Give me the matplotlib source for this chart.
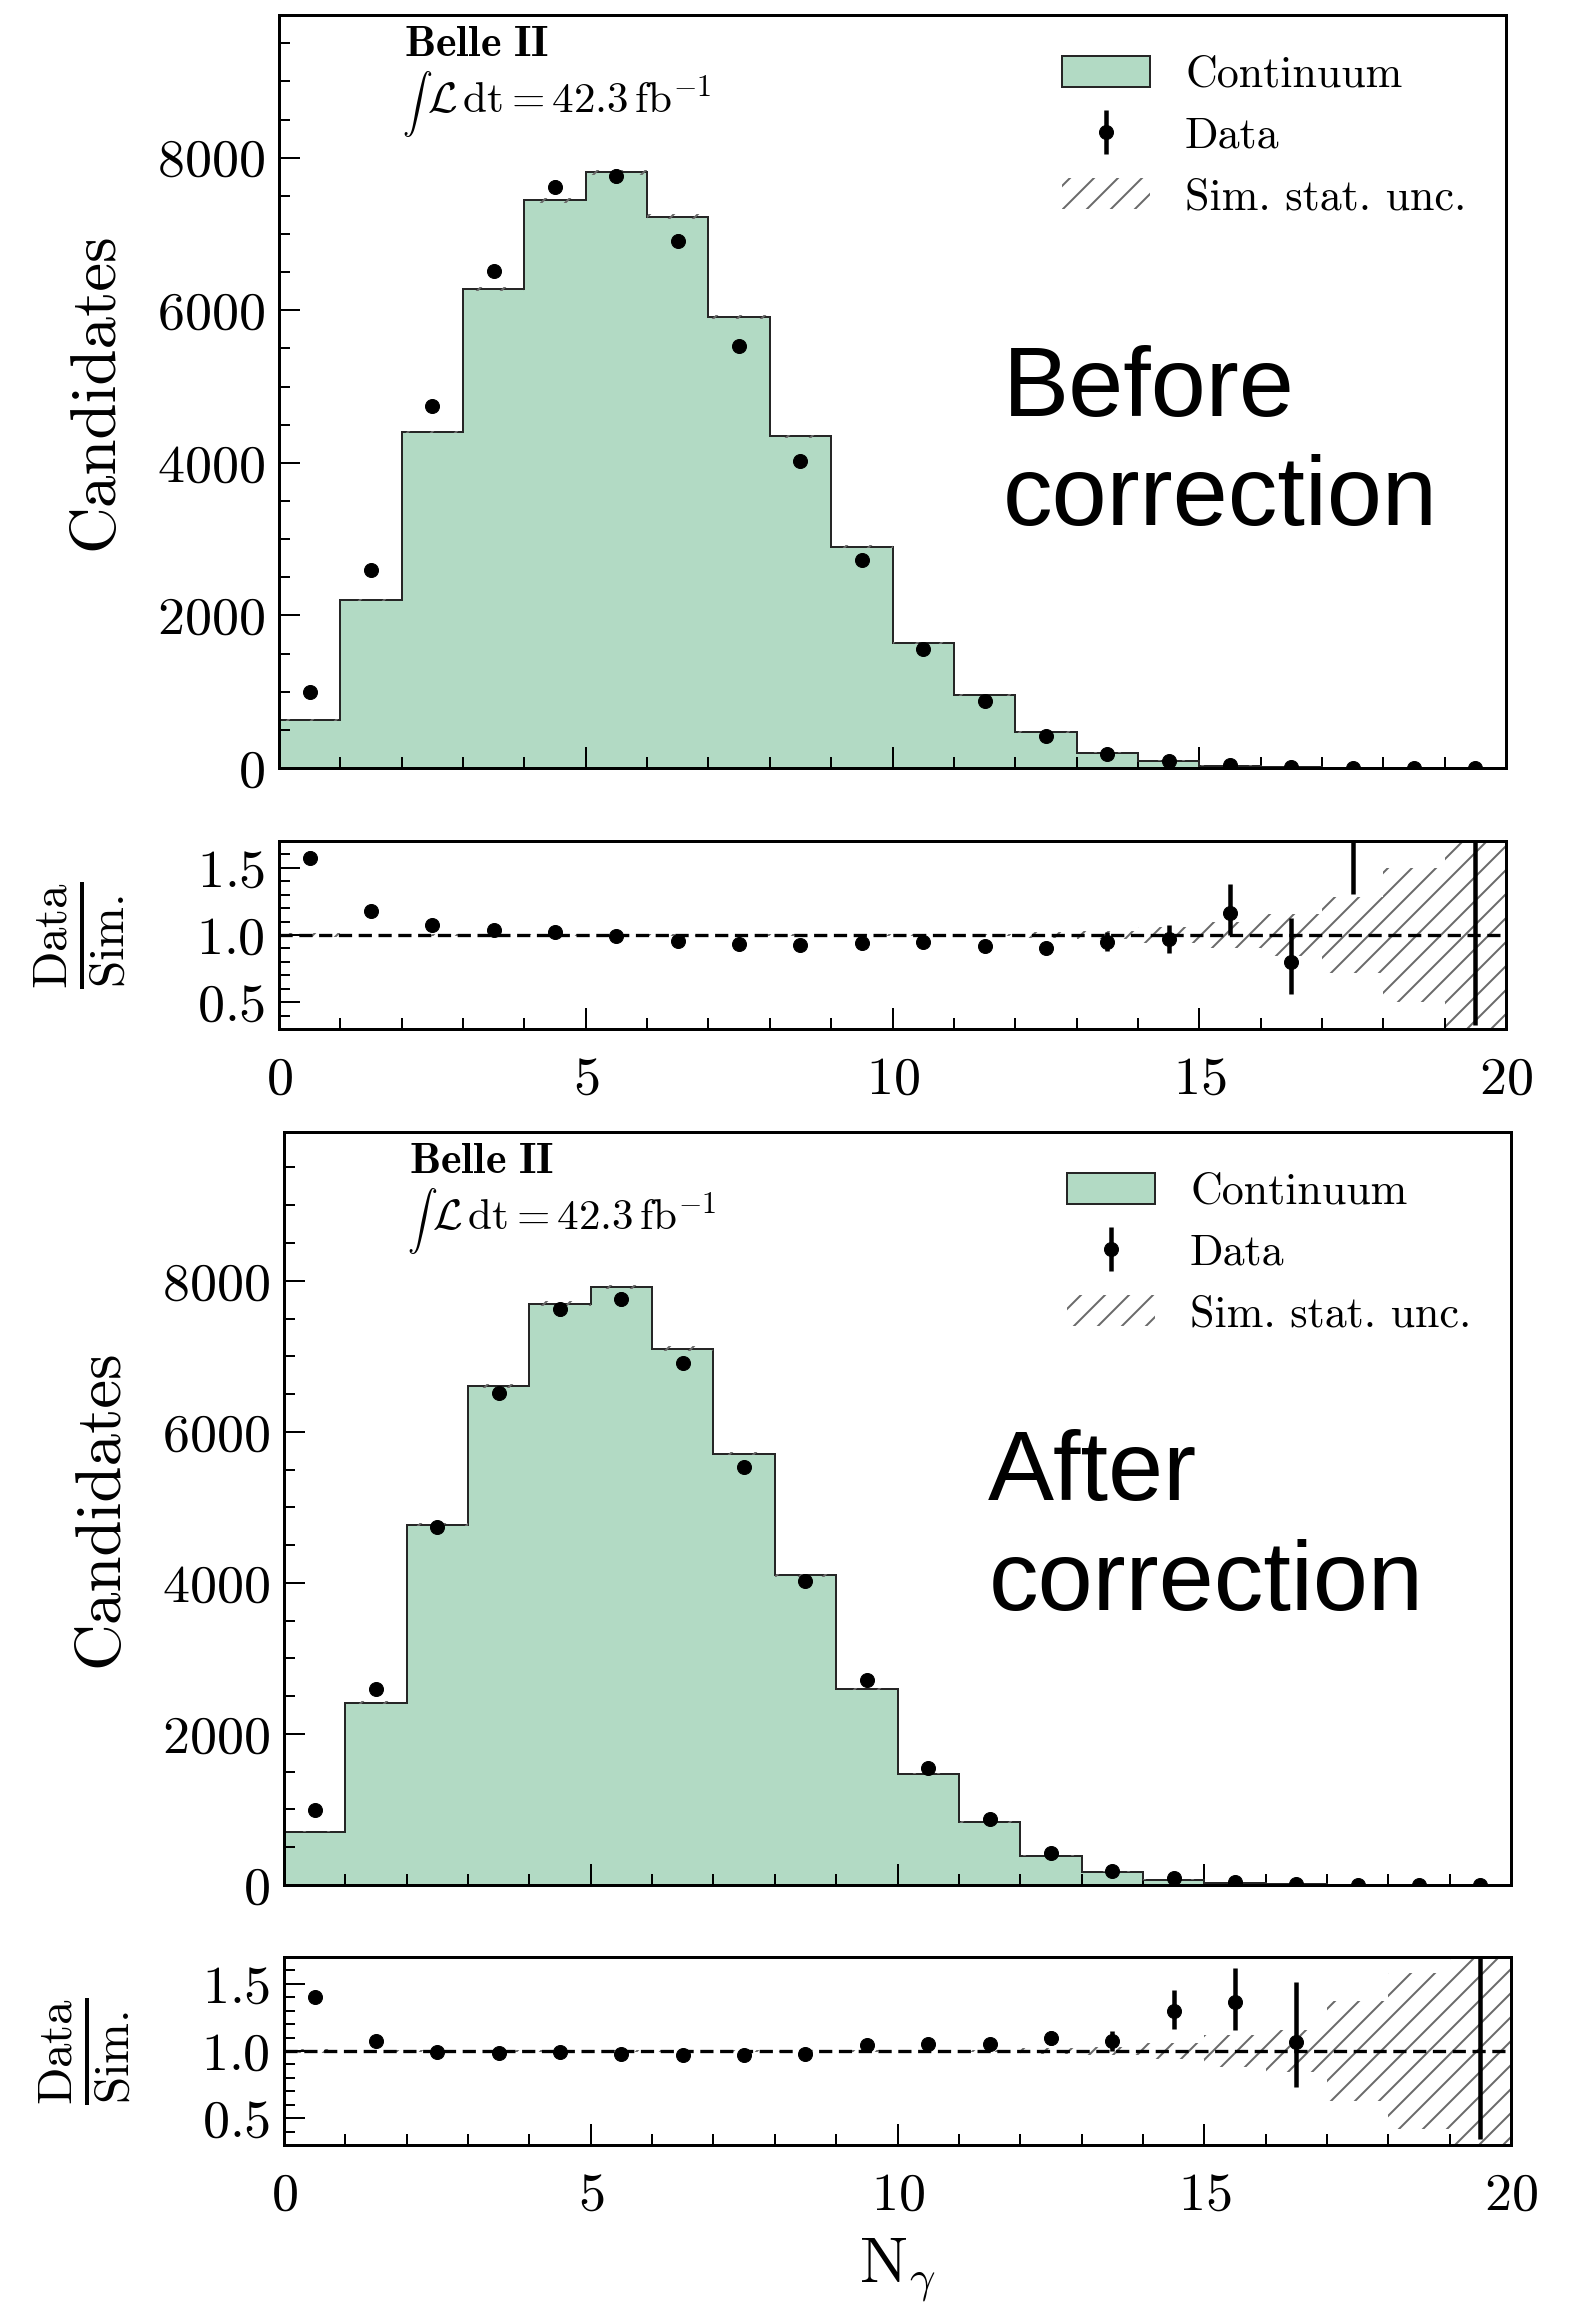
import numpy as np
import matplotlib
matplotlib.use("Agg")
import matplotlib.pyplot as plt
from matplotlib.patches import Patch
from matplotlib.ticker import MultipleLocator

plt.rcParams['font.family'] = 'cmr10'
plt.rcParams['mathtext.fontset'] = 'cm'
plt.rcParams['axes.formatter.use_mathtext'] = True
plt.rcParams['hatch.linewidth'] = 2.0

# ---------------- data ----------------
bin_edges = list(range(21))
data = [990, 2590, 4740, 6510, 7620, 7760, 6910, 5530, 4020, 2720,
        1555, 880, 425, 190, 90, 37, 10, 2, 0, 1]

sim_before = [628, 2203, 4406, 6280, 7440, 7807, 7227, 5913, 4348, 2900,
              1635, 955, 470, 200, 93, 31.7, 12.5, 0.6, 0.3, 0.5]
sim_after = [707, 2416, 4773, 6609, 7697, 7918, 7102, 5713, 4102, 2598,
             1475, 835, 387, 177, 69.5, 27.1, 9.4, 0.3, 0.2, 0.5]

# relative simulation statistical uncertainty
band_before = [0.015, 0.006, 0.004, 0.004, 0.004, 0.004, 0.004, 0.004, 0.005, 0.006,
               0.008, 0.011, 0.02, 0.03, 0.06, 0.10, 0.155, 0.28, 0.50, 1.5]
band_after = [0.015, 0.006, 0.004, 0.004, 0.004, 0.004, 0.004, 0.004, 0.005, 0.006,
              0.008, 0.011, 0.02, 0.03, 0.06, 0.12, 0.16, 0.37, 0.58, 1.5]

# ratio uncertainties (lower, upper)
rerr_lo_before = [0.05, 0.023, 0.016, 0.013, 0.012, 0.011, 0.012, 0.013, 0.015, 0.018,
                  0.024, 0.031, 0.044, 0.07, 0.10, 0.17, 0.24, 2.03, 0.0, 1.67]
rerr_hi_before = [0.05, 0.023, 0.016, 0.013, 0.012, 0.011, 0.012, 0.013, 0.015, 0.018,
                  0.024, 0.031, 0.044, 0.07, 0.11, 0.21, 0.33, 3.0, 0.0, 4.6]
rerr_lo_after = [0.045, 0.021, 0.014, 0.012, 0.011, 0.011, 0.012, 0.013, 0.015, 0.02,
                 0.026, 0.035, 0.05, 0.075, 0.13, 0.21, 0.33, 4.5, 0.0, 1.654]
rerr_hi_after = [0.045, 0.021, 0.014, 0.012, 0.011, 0.011, 0.012, 0.013, 0.015, 0.02,
                 0.026, 0.035, 0.05, 0.075, 0.16, 0.25, 0.45, 8.0, 0.0, 4.6]

green = '#b2dac4'
hatch_col = '#6a6a6a'
edge_col = '#262626'

W, H = 1578, 2307
DPI = 72
fig = plt.figure(figsize=(W / DPI, H / DPI), dpi=DPI)


def fx(px):
    return px / W


def fy(px):
    return 1 - px / H


def style(ax):
    for s in ax.spines.values():
        s.set_linewidth(3)
    ax.tick_params(which='both', direction='in', top=False, right=False,
                   labelsize=54, width=2)
    ax.tick_params(which='major', length=21)
    ax.tick_params(which='minor', length=11)
    ax.tick_params(axis='y', pad=14)
    ax.tick_params(axis='x', pad=28)
    ax.xaxis.set_major_locator(MultipleLocator(5))
    ax.xaxis.set_minor_locator(MultipleLocator(1))
    ax.set_xlim(0, 20)


def draw(left, top_main, top_ratio, sim, band, lo, hi, ymax, word, xlabel):
    width = 1227
    ax = fig.add_axes([fx(left), fy(top_main + 753), fx(width), 753 / H])
    axr = fig.add_axes([fx(left), fy(top_ratio + 188), fx(width), 188 / H])

    edges = np.array(bin_edges, dtype=float)
    centers = 0.5 * (edges[:-1] + edges[1:])
    s = np.array(sim, dtype=float)
    d = np.array(data, dtype=float)
    b = np.array(band, dtype=float)

    ax.stairs(s, edges, fill=True, facecolor=green, edgecolor='none', zorder=1)
    ax.stairs(s, edges, color=edge_col, lw=2.0, zorder=2)
    ax.stairs(s * (1 + b), edges, baseline=s * (1 - b), fill=True,
              facecolor='none', edgecolor=hatch_col, lw=0, hatch='/', zorder=3)
    eb = ax.errorbar(centers, d, yerr=np.sqrt(d), fmt='o', color='k', ms=14,
                     elinewidth=4.5, capsize=0, zorder=5)
    style(ax)
    ax.set_ylim(0, ymax)
    ax.yaxis.set_major_locator(MultipleLocator(2000))
    ax.yaxis.set_minor_locator(MultipleLocator(500))
    ax.tick_params(axis='x', labelbottom=False)
    ax.set_ylabel('Candidates', fontsize=65)
    ax.yaxis.set_label_coords(-0.125, 0.5)

    ax.text(0.102, 0.9456, r'$\mathbf{Belle\ II}$', transform=ax.transAxes,
            fontsize=44, ha='left', va='baseline')
    ax.text(0.100, 0.868, r'$\int$', transform=ax.transAxes,
            fontsize=30, ha='left', va='baseline')
    ax.text(0.121, 0.870, r'$\mathcal{L}\,\mathrm{dt} = 42.3\,\mathrm{fb}^{-1}$',
            transform=ax.transAxes, fontsize=43, ha='left', va='baseline')
    ax.text(word[1], word[2], word[0], transform=ax.transAxes, fontsize=99,
            family='Liberation Sans', ha='left', va='baseline')
    ax.text(word[1], word[3], 'correction', transform=ax.transAxes, fontsize=99,
            family='Liberation Sans', ha='left', va='baseline')

    handles = [Patch(facecolor=green, edgecolor=edge_col, lw=2.0), eb,
               Patch(facecolor='none', edgecolor=hatch_col, hatch='/', lw=0)]
    labels = ['Continuum', 'Data', 'Sim. stat. unc.']
    ax.legend(handles, labels, loc='upper left', bbox_to_anchor=(0.638, 0.946),
              frameon=False, fontsize=44, borderpad=0, borderaxespad=0,
              handlelength=2.0, handleheight=0.72, handletextpad=0.8,
              labelspacing=0.48)

    # ratio panel
    r = d / s
    axr.stairs(1 + b, edges, baseline=1 - b, fill=True, facecolor='none',
               edgecolor=hatch_col, lw=0, hatch='/', zorder=1)
    axr.axhline(1.0, color='k', ls=(0, (4, 2)), lw=3.3, zorder=2)
    axr.errorbar(centers, r, yerr=[lo, hi], fmt='o', color='k', ms=14,
                 elinewidth=4.5, capsize=0, zorder=5)
    style(axr)
    axr.set_ylim(0.3, 1.7)
    axr.yaxis.set_major_locator(MultipleLocator(0.5))
    axr.yaxis.set_minor_locator(MultipleLocator(0.1))
    axr.set_ylabel(r'$\frac{\mathrm{Data}}{\mathrm{Sim.}}$', fontsize=70)
    axr.yaxis.set_label_coords(-0.122, 0.5)
    if xlabel:
        axr.set_xlabel(r'$\mathrm{N}_{\gamma}$', fontsize=64)
        axr.xaxis.set_label_coords(0.5, -0.49)


draw(279, 15, 841, sim_before, band_before, rerr_lo_before, rerr_hi_before,
     9870, ('Before', 0.59, 0.4675, 0.3227), False)
draw(284, 1132, 1957, sim_after, band_after, rerr_lo_after, rerr_hi_after,
     9970, ('After', 0.574, 0.511, 0.365), True)

fig.savefig('out.png', dpi=DPI, facecolor='white')
